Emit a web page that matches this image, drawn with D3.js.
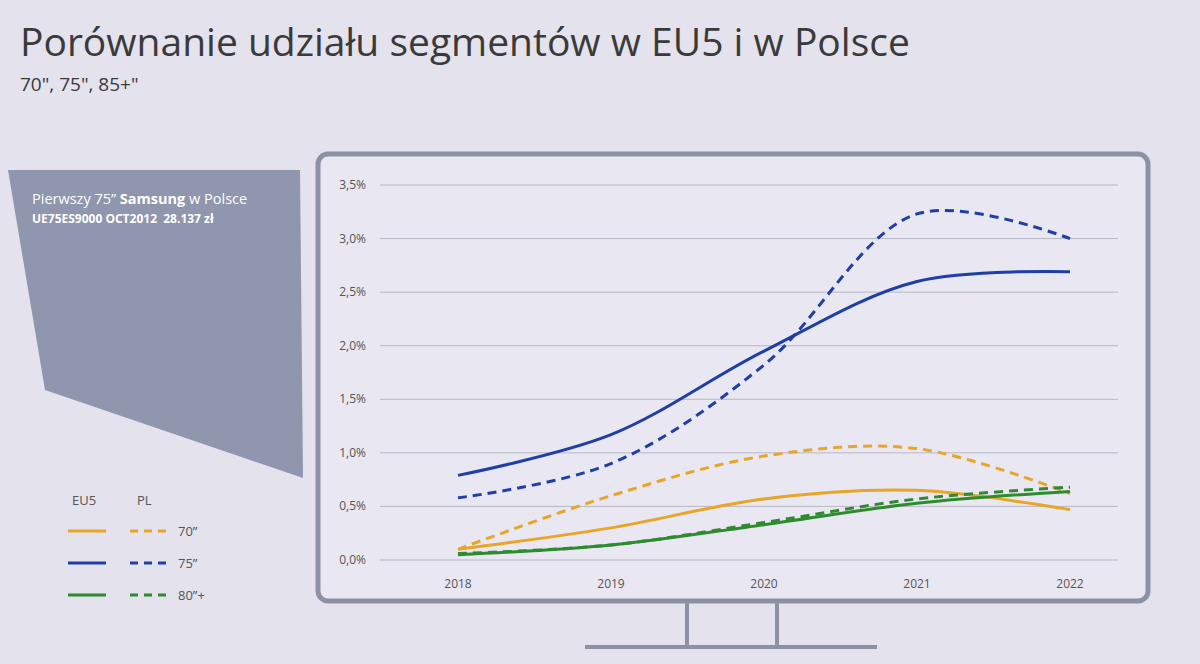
<!DOCTYPE html>
<html><head><meta charset="utf-8">
<script src="https://cdn.jsdelivr.net/npm/d3@7"></script>
<style>body{margin:0;background:#e2e1ec;font-family:"Open Sans",sans-serif}</style>
</head><body><svg id="c" width="1200" height="664"></svg>
<script>
const years=[2018,2019,2020,2021,2022];
const yTicks=[0,0.5,1,1.5,2,2.5,3,3.5];
const eu70=[0.10,0.30,0.57,0.65,0.47];
const pl70=[0.10,0.60,0.97,1.04,0.62];
const eu75=[0.79,1.17,1.95,2.60,2.69];
const pl75=[0.58,0.90,1.82,3.23,3.00];
const eu80=[0.05,0.14,0.33,0.53,0.64];
const pl80=[0.06,0.14,0.35,0.57,0.68];
const colors={"70":"#e8a526","75":"#1f3fa6","80":"#2e8b2e"};
const series=[
 {v:eu70,c:colors["70"],d:false},{v:pl70,c:colors["70"],d:true},
 {v:eu80,c:colors["80"],d:false},{v:pl80,c:colors["80"],d:true},
 {v:eu75,c:colors["75"],d:false},{v:pl75,c:colors["75"],d:true}];
const legend=[{l:"70\u201D",c:colors["70"]},{l:"75\u201D",c:colors["75"]},{l:"80\u201D+",c:colors["80"]}];

const svg=d3.select("#c");
svg.append("rect").attr("width",1200).attr("height",664).attr("fill","#e3e2ed");
svg.append("text").attr("x",20).attr("y",56).attr("font-size",39).attr("fill","#3a3a3a").text("Porównanie udziału segmentów w EU5 i w Polsce");
svg.append("text").attr("x",20).attr("y",91).attr("font-size",19).attr("fill","#3a3a3a").text("70\", 75\", 85+\"");
svg.append("polygon").attr("points","8,170 300,170 303,478 45,390").attr("fill","#8f96ad");
svg.append("text").attr("x",32).attr("y",204).attr("font-size",14.5).attr("fill","#fff")
 .html('Pierwszy 75” <tspan font-weight="bold">Samsung</tspan> w Polsce');
svg.append("text").attr("x",32).attr("y",223).attr("font-size",12).attr("fill","#fff").attr("font-weight","bold").attr("xml:space","preserve").text("UE75ES9000 OCT2012  28.137 zł");

svg.append("rect").attr("x",318).attr("y",154).attr("width",830).attr("height",447).attr("rx",10)
 .attr("fill","#e8e7f2").attr("stroke","#8c91a3").attr("stroke-width",5);
svg.append("g").attr("stroke","#8c91a3").attr("stroke-width",4).selectAll("line")
 .data([[687,603,687,646],[777,603,777,646],[585,647,877,647]]).join("line")
 .attr("x1",d=>d[0]).attr("y1",d=>d[1]).attr("x2",d=>d[2]).attr("y2",d=>d[3]);

const x=d3.scaleLinear().domain([2018,2022]).range([458,1070]);
const y=d3.scaleLinear().domain([0,3.5]).range([560,185]);
const g=svg.append("g");
g.selectAll("line.grid").data(yTicks).join("line").attr("x1",380).attr("x2",1118)
 .attr("y1",d=>y(d)).attr("y2",d=>y(d)).attr("stroke","#b8b8c4").attr("stroke-width",1);
g.selectAll("text.yt").data(yTicks).join("text").attr("x",366).attr("y",d=>y(d)+4)
 .attr("text-anchor","end").attr("font-size",12).attr("fill","#555").text(d=>d.toFixed(1).replace(".",",")+"%");
g.selectAll("text.xt").data(years).join("text").attr("x",d=>x(d)).attr("y",588)
 .attr("text-anchor","middle").attr("font-size",12).attr("fill","#555").text(d=>d);
const line=d3.line().x((d,i)=>x(years[i])).y(d=>y(d)).curve(d3.curveCatmullRom.alpha(0.5));
g.selectAll("path.s").data(series).join("path").attr("d",d=>line(d.v)).attr("fill","none")
 .attr("stroke",d=>d.c).attr("stroke-width",3).attr("stroke-dasharray",d=>d.d?"9,6":null);

svg.append("text").attr("x",72).attr("y",505).attr("font-size",13).attr("fill","#555").text("EU5");
svg.append("text").attr("x",137).attr("y",505).attr("font-size",13).attr("fill","#555").text("PL");
legend.forEach((L,i)=>{const yy=531+i*32;
 svg.append("line").attr("x1",68).attr("x2",106).attr("y1",yy).attr("y2",yy).attr("stroke",L.c).attr("stroke-width",3);
 svg.append("line").attr("x1",130).attr("x2",166).attr("y1",yy).attr("y2",yy).attr("stroke",L.c).attr("stroke-width",3).attr("stroke-dasharray","8,6");
 svg.append("text").attr("x",178).attr("y",yy+5).attr("font-size",13).attr("fill","#555").text(L.l);
});
</script></body></html>
